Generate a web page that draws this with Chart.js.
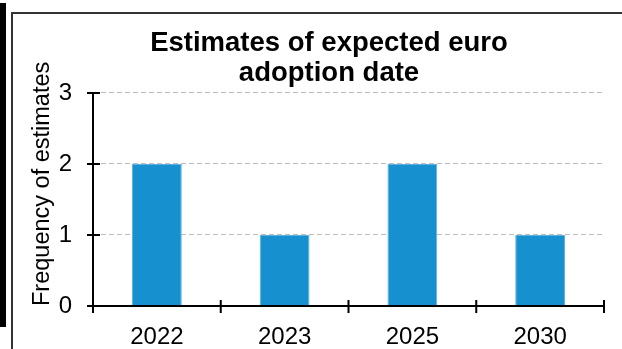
<!DOCTYPE html>
<html><head><meta charset="utf-8">
<script src="https://cdn.jsdelivr.net/npm/chart.js@4"></script>
<style>html,body{margin:0;padding:0;background:#fff;overflow:hidden} canvas{display:block}</style>
</head><body>
<canvas id="c" width="622" height="349"></canvas>
<script>
const categories = ['2022', '2023', '2025', '2030'];
const frequencies = [2, 1, 2, 1];
const yTickValues = [0, 1, 2, 3];
const titleLines = ['Estimates of expected euro', 'adoption date'];
const yAxisTitle = 'Frequency of estimates';

const FONT = "'Liberation Sans', Arial, Helvetica, sans-serif";

const decor = {
  id: 'decor',
  beforeDraw(chart) {
    const ctx = chart.ctx;
    ctx.save();
    ctx.fillStyle = '#fff';
    ctx.fillRect(0, 0, chart.width, chart.height);
    ctx.fillStyle = '#000';
    ctx.fillRect(0, 3, 6, 324);
    ctx.strokeStyle = '#333';
    ctx.lineWidth = 2;
    ctx.beginPath();
    ctx.moveTo(12, chart.height);
    ctx.lineTo(12, 13);
    ctx.lineTo(chart.width, 13);
    ctx.stroke();
    ctx.restore();
  },
  afterDatasetsDraw(chart) {
    const ctx = chart.ctx;
    const x = chart.scales.x, y = chart.scales.y;
    const area = chart.chartArea;
    const y0 = y.getPixelForValue(0);
    ctx.save();
    ctx.strokeStyle = '#000';
    ctx.lineWidth = 2;
    ctx.beginPath();
    ctx.moveTo(area.left, area.top);
    ctx.lineTo(area.left, y0);
    ctx.moveTo(area.left, y0);
    ctx.lineTo(area.right, y0);
    yTickValues.forEach(v => {
      const py = y.getPixelForValue(v);
      ctx.moveTo(area.left - 6, py);
      ctx.lineTo(area.left + 7, py);
    });
    for (let i = 0; i <= categories.length; i++) {
      const px = x.getPixelForValue(i - 0.5);
      ctx.moveTo(px, y0 - 6);
      ctx.lineTo(px, y0 + 7);
    }
    ctx.stroke();
    ctx.restore();
  }
};

new Chart(document.getElementById('c'), {
  type: 'bar',
  data: {
    labels: categories,
    datasets: [{
      data: frequencies,
      backgroundColor: '#1790d0',
      borderColor: '#5fb1e2',
      borderWidth: 1,
      barPercentage: 0.39,
      categoryPercentage: 1.0
    }]
  },
  options: {
    responsive: false,
    animation: false,
    layout: { padding: { left: 54, right: 18, top: 0, bottom: 0 } },
    plugins: {
      legend: { display: false },
      tooltip: { enabled: false },
      title: {
        display: true,
        text: titleLines,
        color: '#000',
        font: { family: FONT, size: 27.5, weight: 'bold', lineHeight: 1.09 },
        padding: { top: 28, bottom: 5 }
      }
    },
    scales: {
      x: {
        grid: { display: false },
        border: { display: false },
        ticks: { color: '#000', font: { family: FONT, size: 24 }, padding: 8.5 },
        afterFit(scale) { scale.height = 43; }
      },
      y: {
        min: 0, max: 3,
        afterBuildTicks(scale) { scale.ticks = yTickValues.map(v => ({ value: v })); },
        ticks: { color: '#000', font: { family: FONT, size: 24 }, padding: 21 },
        grid: {
          drawTicks: false,
          color: ctx => ctx.tick && ctx.tick.value === 0 ? 'rgba(0,0,0,0)' : '#bdbdbd',
          lineWidth: 1
        },
        border: { display: false, dash: [5, 3] },
        title: {
          display: true,
          text: yAxisTitle,
          align: 'start',
          color: '#000',
          font: { family: FONT, size: 23.5 },
          padding: { top: -26, bottom: 0 }
        },
        afterFit(scale) { scale.width = 39; }
      }
    }
  },
  plugins: [decor]
});
</script>
</body></html>
